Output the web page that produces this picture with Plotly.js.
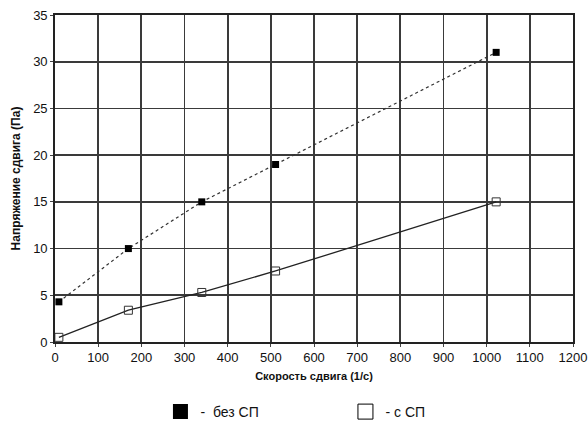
<!DOCTYPE html>
<html><head><meta charset="utf-8">
<script src="https://cdn.plot.ly/plotly-3.0.1.min.js"></script>
<style>body{margin:0;background:#fff}#g{width:588px;height:423px}</style>
</head><body><div id="g"></div>
<script>
const shearRate = [9, 170, 340, 511, 1022];
const stressWithout = [4.3, 10, 15, 19, 31];
const stressWith = [0.5, 3.4, 5.3, 7.6, 15];
const nameWithout = "-  без СП";
const nameWith = "- с СП";
const xTicks = [0,100,200,300,400,500,600,700,800,900,1000,1100,1200];
const yTicks = [0,5,10,15,20,25,30,35];

const traces = [
  {x: shearRate, y: stressWithout, mode: 'lines+markers', showlegend: false,
   line: {color: '#333', width: 1.2, dash: 'dot'},
   marker: {symbol: 'square', size: 7, color: '#000'}},
  {x: shearRate, y: stressWith, mode: 'lines+markers', showlegend: false,
   line: {color: '#222', width: 1.3},
   marker: {symbol: 'square-open', size: 8, color: '#333', line: {width: 1}}},
  {x: [null], y: [null], mode: 'markers', name: nameWithout,
   marker: {symbol: 'square', size: 15, color: '#000'}},
  {x: [null], y: [null], mode: 'markers', name: nameWith,
   marker: {symbol: 'square-open', size: 15, color: '#000', line: {width: 1}}}
];
const layout = {
  width: 588, height: 423,
  margin: {l: 55, r: 15, t: 15, b: 81},
  paper_bgcolor: '#fff', plot_bgcolor: '#fff',
  font: {family: 'Liberation Sans, Arial, sans-serif', color: '#111', size: 13},
  xaxis: {range: [0, 1200], tickvals: xTicks, ticks: 'outside', ticklen: 3,
    showgrid: true, gridcolor: '#3a3a3a', gridwidth: 1.8, zeroline: false,
    showline: true, linecolor: '#222', linewidth: 1.8, mirror: true,
    tickfont: {size: 13},
    title: {text: '<b>Скорость сдвига (1/с)</b>', font: {size: 11}, standoff: 8}},
  yaxis: {range: [0, 35], tickvals: yTicks, ticks: 'outside', ticklen: 3,
    showgrid: true, gridcolor: '#3a3a3a', gridwidth: 1.8, zeroline: false,
    showline: true, linecolor: '#222', linewidth: 1.8, mirror: true,
    tickfont: {size: 13},
    title: {text: '<b>Напряжение сдвига (Па)</b>', font: {size: 12}, standoff: 10}},
  legend: {orientation: 'h', xref: 'container', yref: 'container',
    x: 0.5875, xanchor: 'center', y: 0.026, yanchor: 'middle',
    font: {size: 14}, itemwidth: 30, traceorder: 'normal', entrywidth: 140,
    tracegroupgap: 0},
  showlegend: true
};
Plotly.newPlot('g', traces, layout, {displayModeBar: false, staticPlot: true});
</script></body></html>
